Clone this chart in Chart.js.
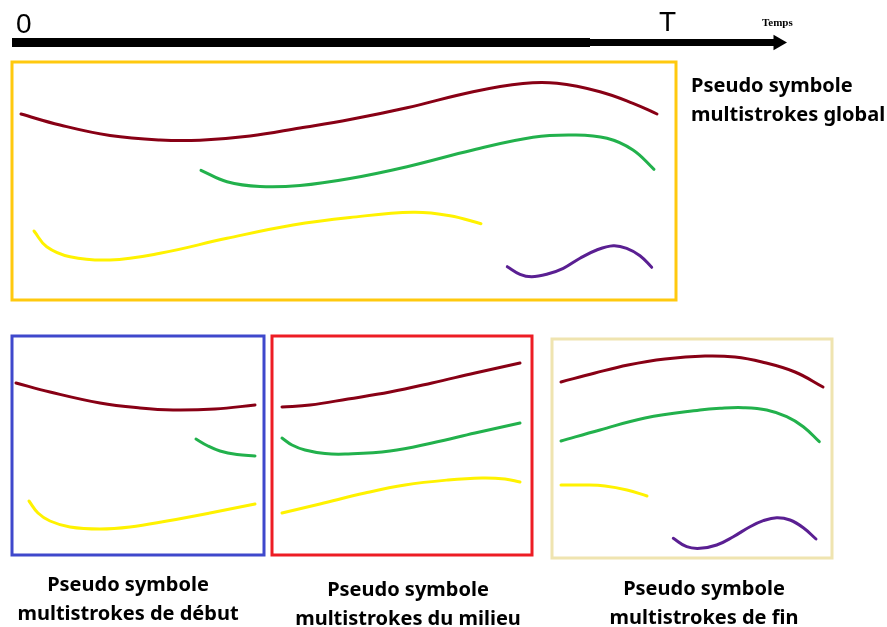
<!DOCTYPE html>
<html>
<head>
<meta charset="utf-8">
<script src="https://cdn.jsdelivr.net/npm/chart.js@4/dist/chart.umd.min.js"></script>
<style>
  html, body { margin: 0; padding: 0; background: #fff; }
  #wrap { position: relative; width: 887px; height: 627px; overflow: hidden; }
  canvas { position: absolute; left: 0; top: 0; }
  .lbl { position: absolute; font-family: "Noto Sans", sans-serif; font-weight: 700; font-size: 20px; line-height: 29px; color: #000; white-space: nowrap; letter-spacing: 0; }
  .c { text-align: center; }
</style>
</head>
<body>
<div id="wrap">
  <canvas id="c" width="887" height="627"></canvas>
  <div class="lbl" style="left:16px;top:8px;font-family:'Liberation Sans Narrow','Liberation Sans',sans-serif;font-weight:400;font-size:28px;line-height:32px">0</div>
  <div class="lbl" style="left:659px;top:6px;font-family:'Liberation Sans Narrow','Liberation Sans',sans-serif;font-weight:400;font-size:28px;line-height:32px">T</div>
  <div class="lbl" style="left:762px;top:15px;font-family:'Liberation Serif',serif;font-size:11px;line-height:14px">Temps</div>
  <div class="lbl" style="left:691px;top:70px">Pseudo symbole<br>multistrokes global</div>
  <div class="lbl c" style="left:8px;width:240px;top:569px">Pseudo symbole<br>multistrokes de début</div>
  <div class="lbl c" style="left:288px;width:240px;top:574px">Pseudo symbole<br>multistrokes du milieu</div>
  <div class="lbl c" style="left:584px;width:240px;top:573px">Pseudo symbole<br>multistrokes de fin</div>
</div>
<script>
// ---- Data (diagram coordinates, y grows downward) ----
// Time axis
const timeAxisThick = [[12, 42.5], [590, 42.5]];
const timeAxisThin  = [[588, 42.5], [776, 42.5]];
const timeAxisHead  = [[778, 42.5]];

// Global pseudo-symbol (top box)
const globalBox    = [[12, 62], [676, 62], [676, 300], [12, 300], [12, 62]];
const globalRed    = [[21, 114], [60, 125], [110, 135.5], [160, 140], [200, 140.2], [250, 136], [300, 128], [350, 119.5],
                      [407, 107.7], [473, 91.7], [523, 83.5], [557, 83.3], [600, 91.7], [633, 103.3], [657, 114]];
const globalGreen  = [[201, 170.3], [227, 181.7], [260, 186.5], [300, 185.5], [350, 178.5], [407, 166.7], [473, 150],
                      [533, 137.3], [573, 135], [607, 138.3], [633, 150], [654, 169.3]];
const globalYellow = [[34, 231], [46.7, 246.7], [70, 256.7], [110, 260], [160, 253.3], [227, 238.3], [293, 225],
                      [350, 217.5], [413, 212.3], [450, 215.7], [481, 223.7]];
const globalPurple = [[507.3, 266.7], [520, 274.3], [531.7, 276.7], [546.7, 274.3], [563.3, 268.3], [580, 258.3],
                      [596.7, 250], [613.3, 245.7], [626.7, 248.3], [640, 255.7], [651.7, 267.3]];

// Beginning pseudo-symbol (blue box)
const debutBox    = [[12, 336], [264, 336], [264, 555], [12, 555], [12, 336]];
const debutRed    = [[16, 383], [50, 392], [100, 403], [140, 408], [173, 410], [215, 409], [255, 405]];
const debutGreen  = [[196, 439], [208, 446], [220, 451], [237, 454.5], [255, 456]];
const debutYellow = [[29, 501], [38, 513], [50, 521], [70, 527], [100, 529], [130, 527], [167, 521], [210, 513], [255, 504]];

// Middle pseudo-symbol (red box)
const milieuBox    = [[272, 336], [532, 336], [532, 555], [272, 555], [272, 336]];
const milieuRed    = [[282, 407], [310, 405], [348, 399], [390, 392], [432, 383], [475, 373], [520, 363]];
const milieuGreen  = [[282, 438], [292, 445], [305, 450], [325, 453.5], [345, 454], [390, 451], [432, 443], [475, 433], [520, 423]];
const milieuYellow = [[282, 513], [320, 504], [365, 493], [405, 485], [448, 480], [482, 478], [505, 479], [520, 482]];

// End pseudo-symbol (tan box)
const finBox    = [[552, 339], [832, 339], [832, 558], [552, 558], [552, 339]];
const finRed    = [[561, 382], [595, 373], [628, 365], [665, 359], [705, 356], [735, 357], [762, 362], [795, 372], [823, 387]];
const finGreen  = [[561, 441], [600, 430], [645, 418], [700, 410], [720, 408.3], [743.3, 407.7], [766.7, 410],
                   [786.7, 416.7], [803.3, 426.7], [819.3, 441.7]];
const finYellow = [[561, 485], [585, 485], [605, 486], [627, 490], [647, 496]];
const finPurple = [[673.3, 538.3], [686.7, 546.7], [700, 548.3], [716.7, 545], [733.3, 536.7], [750, 526.7],
                   [763.3, 520.7], [776.7, 517.7], [790, 520], [803.3, 527.7], [816, 539]];

// ---- Styles ----
const C = {
  red: '#880015', green: '#22B14C', yellow: '#FFF200', purple: '#5A1F92',
  gold: '#FFC90E', blue: '#3F48CC', bright: '#ED1C24', tan: '#EFE4B0', black: '#000000'
};

const pts = arr => arr.map(p => ({ x: p[0], y: p[1] }));
function stroke(arr, color, w) {
  return { data: pts(arr), borderColor: color, backgroundColor: color, borderWidth: w || 3,
    showLine: true, tension: 0.4, pointRadius: 0, borderCapStyle: 'round', borderJoinStyle: 'round' };
}
function box(arr, color) {
  return { data: pts(arr), borderColor: color, backgroundColor: color, borderWidth: 3,
    showLine: true, tension: 0, pointRadius: 0, borderJoinStyle: 'miter', borderCapStyle: 'square' };
}

const datasets = [
  box(globalBox, C.gold), box(debutBox, C.blue), box(milieuBox, C.bright), box(finBox, C.tan),
  { data: pts(timeAxisThick), borderColor: C.black, borderWidth: 9, showLine: true, pointRadius: 0, borderCapStyle: 'butt' },
  { data: pts(timeAxisThin), borderColor: C.black, borderWidth: 7, showLine: true, pointRadius: 0, borderCapStyle: 'butt' },
  { data: pts(timeAxisHead), pointStyle: 'triangle', rotation: 90, pointRadius: 9, backgroundColor: C.black, borderColor: C.black, borderWidth: 0, showLine: false },
  stroke(globalRed, C.red), stroke(globalGreen, C.green), stroke(globalYellow, C.yellow), stroke(globalPurple, C.purple),
  stroke(debutRed, C.red), stroke(debutGreen, C.green), stroke(debutYellow, C.yellow),
  stroke(milieuRed, C.red), stroke(milieuGreen, C.green), stroke(milieuYellow, C.yellow),
  stroke(finRed, C.red), stroke(finGreen, C.green), stroke(finYellow, C.yellow), stroke(finPurple, C.purple)
];

new Chart(document.getElementById('c'), {
  type: 'scatter',
  data: { datasets },
  options: {
    responsive: false, animation: false, devicePixelRatio: 1,
    layout: { padding: 0, autoPadding: false },
    plugins: { legend: { display: false }, tooltip: { enabled: false } },
    events: [],
    scales: {
      x: { type: 'linear', min: 0, max: 887, display: false },
      y: { type: 'linear', min: 0, max: 627, reverse: true, display: false }
    },
    elements: { line: { fill: false } }
  }
});
</script>
</body>
</html>
